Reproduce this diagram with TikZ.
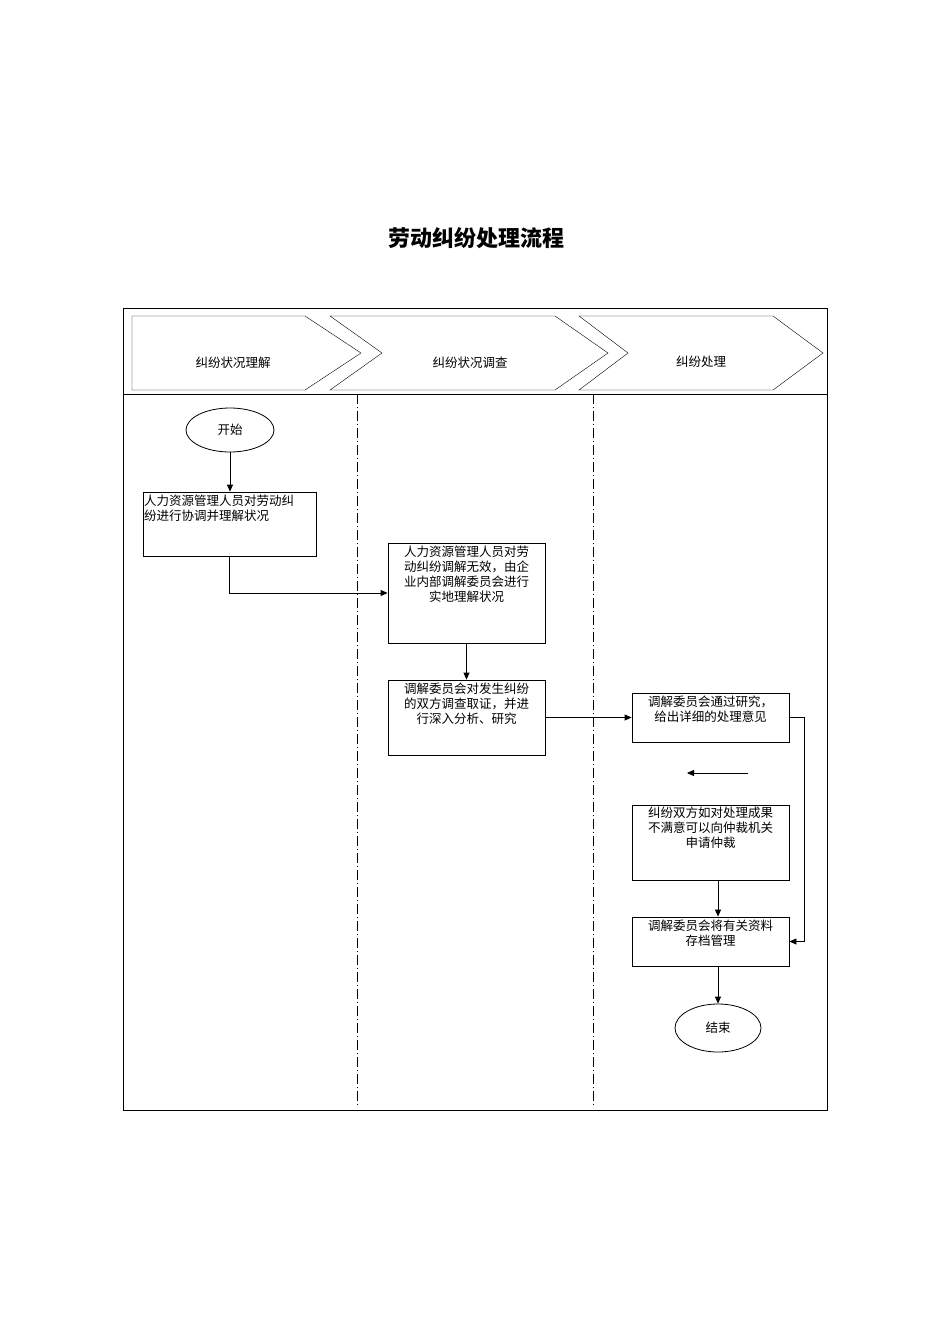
\documentclass[tikz,border=0pt]{standalone}
\usepackage{fontspec}
\setmainfont{Liberation Serif}
\newfontfamily\cjk{Noto Sans CJK SC}
\usetikzlibrary{arrows.meta,shapes.geometric}
\begin{document}
\begin{tikzpicture}[x=1pt,y=-1pt,
  txt/.style={font=\cjk\fontsize{12.5}{15}\selectfont},
  box/.style={draw,thick,rectangle},
  arr/.style={draw,thick,-{Triangle[length=7pt,width=6pt]}},
  lane/.style={draw,thin,dash pattern=on 10pt off 3pt on 1pt off 3pt}]
\useasboundingbox (0,0) rectangle (950,1344);
\node[font=\cjk\bfseries\fontsize{22}{26}\selectfont] (title) at (476,238) {劳动纠纷处理流程};
\draw[thin] (123,308) rectangle (827,1110);
\draw[thin] (123,394) -- (827,394);
\draw[thin] (132,316) -- (305,316) -- (361,353) -- (305,390) -- (132,390) -- cycle;
\draw[thin] (330,316) -- (555,316) -- (608,353) -- (555,390) -- (330,390) -- (382,353) -- cycle;
\draw[thin] (579,316) -- (773,316) -- (823,353) -- (773,390) -- (579,390) -- (628,353) -- cycle;
\node[txt] (h1) at (233,363) {纠纷状况理解};
\node[txt] (h2) at (470,363) {纠纷状况调查};
\node[txt] (h3) at (701,362) {纠纷处理};
\draw[lane] (357,394) -- (357,1108);
\draw[lane] (593,394) -- (593,1108);
\node[draw,thick,ellipse,minimum width=88pt,minimum height=44pt,txt] (start) at (230,430) {开始};
\node[box,minimum width=173pt,minimum height=64pt] (b1) at (229.5,524) {};
\node[txt,anchor=north west,align=left,inner sep=1pt] (t1) at (143,494) {人力资源管理人员对劳动纠\\纷进行协调并理解状况};
\node[box,minimum width=157pt,minimum height=100pt] (b2) at (466.5,593) {};
\node[txt,anchor=north,align=center,inner sep=1pt] (t2) at (466.5,545) {人力资源管理人员对劳\\动纠纷调解无效，由企\\业内部调解委员会进行\\实地理解状况};
\node[box,minimum width=157pt,minimum height=75pt] (b3) at (466.5,717.5) {};
\node[txt,anchor=north,align=center,inner sep=1pt] (t3) at (466.5,682) {调解委员会对发生纠纷\\的双方调查取证，并进\\行深入分析、研究};
\node[box,minimum width=157pt,minimum height=49pt] (b4) at (710.5,717.5) {};
\node[txt,anchor=north,align=center,inner sep=1pt] (t4) at (710.5,695) {调解委员会通过研究，\\给出详细的处理意见};
\node[box,minimum width=157pt,minimum height=75pt] (b5) at (710.5,842.5) {};
\node[txt,anchor=north,align=center,inner sep=1pt] (t5) at (710.5,806) {纠纷双方如对处理成果\\不满意可以向仲裁机关\\申请仲裁};
\node[box,minimum width=157pt,minimum height=49pt] (b6) at (710.5,941.5) {};
\node[txt,anchor=north,align=center,inner sep=1pt] (t6) at (710.5,919) {调解委员会将有关资料\\存档管理};
\node[draw,thick,ellipse,minimum width=86pt,minimum height=48pt,txt] (end) at (718,1028) {结束};
\coordinate (s1) at (748,773);
\coordinate (s2) at (687,773);
\draw[arr] (start) -- (start|-b1.north);
\draw[arr] (b1.south) |- (b2.west);
\draw[arr] (b2.south) -- (b3.north);
\draw[arr] (b3.east) -- (b4.west);
\draw[arr] (b4.east) -- ++(15,0) |- (b6.east);
\draw[arr] (s1) -- (s2);
\draw[arr] ([xshift=7.5pt]b5.south) -- ([xshift=7.5pt]b6.north);
\draw[arr] ([xshift=7.5pt]b6.south) -- (end.north);
\end{tikzpicture}
\end{document}
